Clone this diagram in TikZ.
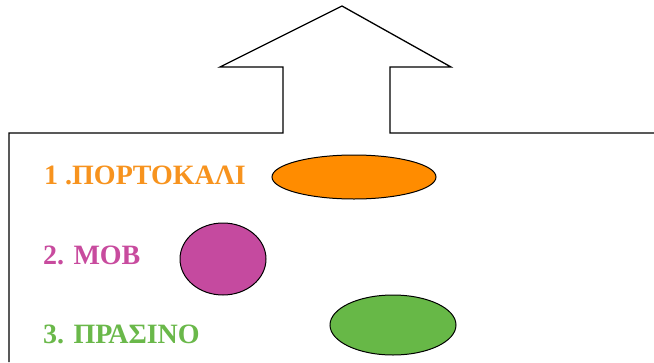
\documentclass[tikz,border=0pt]{standalone}
\usepackage{fontspec}
\setmainfont{Liberation Serif}
\usepackage{tikz}
\usetikzlibrary{shapes.geometric}
\definecolor{portokali}{HTML}{FF8C00}
\definecolor{mov}{HTML}{C54A9F}
\definecolor{prasino}{HTML}{67B847}
\definecolor{portokalitxt}{HTML}{F7931E}
\definecolor{movtxt}{HTML}{C84B9E}
\definecolor{prasinotxt}{HTML}{6AB84A}

\begin{document}
\begin{tikzpicture}[
  x=1pt, y=-1pt,
  every node/.style={inner sep=0pt},
  lbl/.style={anchor=base west, font=\bfseries\fontsize{28}{32}\selectfont},
  blob/.style={ellipse, draw=black, line width=1pt},
  outline/.style={draw=black, line width=1.3pt, line join=miter}
]
\useasboundingbox (0,0) rectangle (654,362);

\draw[outline] (9,362) -- (9,133) -- (283,133) -- (283,67) -- (220,67)
  -- (342,6) -- (451,67) -- (390,67) -- (390,133) -- (654,133);

\node[lbl, text=portokalitxt] (t1) at (44,184) {1 .ΠΟΡΤΟΚΑΛΙ};
\node[lbl, text=movtxt] (t2) at (43,264) {2. ΜΟΒ};
\node[lbl, text=prasinotxt] (t3) at (43,343) {3. ΠΡΑΣΙΝΟ};

\node[blob, fill=portokali, minimum width=164pt, minimum height=44pt] (e1) at (354,177) {};
\node[blob, fill=mov, minimum width=86pt, minimum height=72pt] (e2) at (223,259) {};
\node[blob, fill=prasino, minimum width=126pt, minimum height=60pt] (e3) at (393,325) {};
\end{tikzpicture}
\end{document}
